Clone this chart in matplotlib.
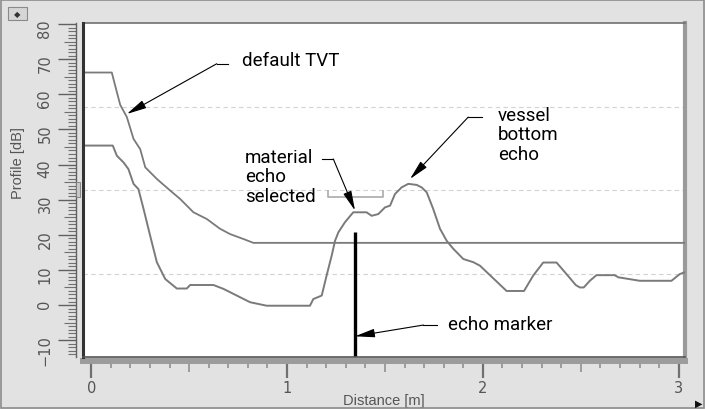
import matplotlib
matplotlib.use('Agg')
import matplotlib.pyplot as plt
from matplotlib.ticker import MultipleLocator
from matplotlib.patches import Rectangle

# echo profile (lower curve), dB vs distance in m
echo_x = [-0.04, 0.11, 0.131, 0.165, 0.190, 0.216, 0.241, 0.267, 0.301, 0.335,
          0.378, 0.437, 0.488, 0.505, 0.624, 0.675, 0.743, 0.811, 0.896, 1.117,
          1.134, 1.177, 1.202, 1.228, 1.245, 1.262, 1.296, 1.338, 1.406, 1.432,
          1.466, 1.500, 1.526, 1.551, 1.585, 1.619, 1.662, 1.687, 1.713, 1.746,
          1.781, 1.815, 1.849, 1.900, 1.951, 1.985, 2.053, 2.121, 2.210, 2.257,
          2.308, 2.376, 2.427, 2.474, 2.495, 2.515, 2.546, 2.580, 2.673, 2.691,
          2.801, 2.963, 3.005, 3.039]
echo_y = [45.4, 45.4, 42.5, 40.6, 38.7, 34.5, 33.0, 27.4, 19.7, 12.2,
          7.4, 4.7, 4.7, 5.7, 5.7, 4.6, 2.7, 0.8, -0.2, -0.2,
          1.7, 2.7, 8.4, 14.1, 18.3, 20.7, 23.6, 26.4, 26.4, 25.4,
          25.9, 27.8, 28.3, 31.6, 33.5, 34.5, 34.2, 33.5, 32.1, 27.4,
          21.7, 18.3, 16.0, 13.1, 12.2, 11.2, 7.6, 4.0, 4.0, 8.4,
          12.1, 12.1, 8.8, 5.7, 5.0, 5.0, 6.9, 8.5, 8.5, 7.9,
          6.9, 6.9, 8.8, 9.5]

# default TVT curve
tvt_x = [-0.04, 0.105, 0.131, 0.148, 0.182, 0.216, 0.25, 0.276, 0.335, 0.403,
         0.454, 0.522, 0.590, 0.658, 0.709, 0.777, 0.828, 3.04]
tvt_y = [66.2, 66.2, 60.6, 57.0, 53.5, 47.3, 44.4, 39.2, 35.9, 32.6,
         30.2, 26.4, 24.5, 21.7, 20.2, 18.8, 17.7, 17.7]

# echo marker position and height
marker_x = 1.347
marker_top = 20.7

# selection window bracket
window_x = [1.21, 1.49]
window_y = [30.7, 32.6]

xlim = (-0.042, 3.032)
ylim = (-14.8, 80.3)

FONT_NOTE = ['Liberation Sans Narrow', 'Roboto', 'DejaVu Sans']
FONT_AX = ['Liberation Sans', 'DejaVu Sans']
GREY_TXT = '#555555'

fig = plt.figure(figsize=(7.05, 4.10), dpi=100, facecolor='#e2e2e2')
ax = fig.add_axes([83 / 705, 1 - 358 / 410, 602 / 705, 334 / 410])
ax.set_facecolor('white')
ax.set_xlim(*xlim)
ax.set_ylim(*ylim)

# dashed grid at quarters of the plot height
for f in (0.25, 0.5, 0.75):
    g = ylim[0] + f * (ylim[1] - ylim[0])
    ax.axhline(g, color='#d2d2d2', lw=0.8, ls=(0, (4, 3)), zorder=1)

ax.plot(tvt_x, tvt_y, color='#7a7a7a', lw=1.3, zorder=3)
ax.plot(echo_x, echo_y, color='#7a7a7a', lw=1.4, zorder=3)
ax.vlines(marker_x, ylim[0], marker_top, color='black', lw=2.4, zorder=4)

# bracket of the selected echo window
ax.plot([window_x[0], window_x[0], window_x[1], window_x[1]],
        [window_y[1], window_y[0], window_y[0], window_y[1]],
        color='#aaaaaa', lw=1.2, zorder=2)

# annotations
arrow = dict(arrowstyle='-|>,head_length=1.2,head_width=0.26', color='black',
             lw=0.8, shrinkA=0, shrinkB=0)
note_kw = dict(fontsize=13.5, family=FONT_NOTE, color='black', zorder=6)

ax.text(0.77, 68.2, 'default TVT', va='baseline', **note_kw)
ax.plot([0.641, 0.70], [68.7, 68.7], color='black', lw=0.8)
ax.annotate('', xy=(0.182, 54.4), xytext=(0.641, 68.7), arrowprops=arrow)

ax.text(0.786, 44.8, 'material\necho\nselected', va='top', linespacing=1.12, **note_kw)
ax.plot([1.177, 1.236], [41.6, 41.6], color='black', lw=0.8)
ax.annotate('', xy=(1.347, 26.9), xytext=(1.236, 41.6), arrowprops=arrow)

ax.text(2.078, 56.8, 'vessel\nbottom\necho', va='top', linespacing=1.12, **note_kw)
ax.plot([1.925, 1.993], [53.5, 53.5], color='black', lw=0.8)
ax.annotate('', xy=(1.628, 35.9), xytext=(1.925, 53.5), arrowprops=arrow)

ax.text(1.823, -6.8, 'echo marker', va='baseline', **note_kw)
ax.plot([1.696, 1.764], [-5.7, -5.7], color='black', lw=0.8)
ax.annotate('', xy=(1.347, -8.9), xytext=(1.696, -5.7), arrowprops=arrow)

# ticks
ax.xaxis.set_major_locator(MultipleLocator(1))
ax.xaxis.set_minor_locator(MultipleLocator(0.1))
ax.yaxis.set_major_locator(MultipleLocator(10))
ax.yaxis.set_minor_locator(MultipleLocator(1))
ax.tick_params(axis='y', which='major', length=13, width=1, color='#606060',
               labelrotation=90, pad=4, labelsize=10.5, labelcolor=GREY_TXT)
ax.tick_params(axis='y', which='minor', length=5.5, width=0.8, color='#707070')
ax.tick_params(axis='x', which='major', length=12.5, width=1.6, color='#707070',
               pad=1, labelsize=10.5, labelcolor=GREY_TXT)
ax.tick_params(axis='x', which='minor', length=5, width=1.2, color='#909090')
for lab in ax.get_xticklabels() + ax.get_yticklabels():
    lab.set_family(FONT_AX)

ax.set_xlabel('Distance [m]', fontsize=10.5, color=GREY_TXT, family=FONT_AX, labelpad=-1.5)
ax.set_ylabel('Profile [dB]', fontsize=10.5, color=GREY_TXT, family=FONT_AX)
ax.yaxis.set_label_coords(-0.096, 0.584)

# frame
ax.spines['left'].set_position(('outward', 5))
ax.spines['left'].set_color('#606060')
ax.spines['left'].set_linewidth(1)
ax.spines['bottom'].set_position(('outward', 3))
ax.spines['bottom'].set_color('#9c9c9c')
ax.spines['bottom'].set_linewidth(4.3)
ax.spines['right'].set_color('#9a9a9a')
ax.spines['right'].set_linewidth(3)
ax.spines['top'].set_color('#707070')
ax.spines['top'].set_linewidth(1.2)
ax.plot([0, 0], [0, 1], transform=ax.transAxes, color='#333333', lw=2.2, clip_on=False, zorder=7)
ax.plot([0, 1], [0, 0], transform=ax.transAxes, color='#555555', lw=1.2, clip_on=False, zorder=7)

# medium ticks at the halves (x) and fives (y)
fig.canvas.draw()
for t, v in zip(ax.yaxis.get_minor_ticks(), ax.yaxis.get_minorticklocs()):
    if abs(v / 5 - round(v / 5)) < 1e-6:
        t.tick1line.set_markersize(8.5)
for t, v in zip(ax.xaxis.get_minor_ticks(), ax.xaxis.get_minorticklocs()):
    if abs(v * 2 - round(v * 2)) < 1e-6:
        t.tick1line.set_markersize(8)

# window decorations
fig.patches.append(Rectangle((1 / 705, 1 / 410), 703 / 705, 408 / 410, transform=fig.transFigure,
                             fill=False, edgecolor='#8c8c8c', lw=1.2))
fig.patches.append(Rectangle((8 / 705, 1 - 21 / 410), 19 / 705, 13 / 410, transform=fig.transFigure,
                             facecolor='#d6d6d6', edgecolor='#8a8a8a', lw=0.8))
fig.text(17.5 / 705, 1 - 14.5 / 410, '\u25c6', fontsize=6, color='#333333', ha='center', va='center')
fig.patches.append(Rectangle((76 / 705, 1 - 198 / 410), 4 / 705, 15 / 410, transform=fig.transFigure,
                             facecolor='#c8c8c8', edgecolor='#7a7a7a', lw=0.6))
fig.text(699 / 705, 1 - 404 / 410, '\u25b6', fontsize=7, color='#111111', ha='center', va='center')

fig.savefig('out.png', dpi=100, facecolor=fig.get_facecolor())
